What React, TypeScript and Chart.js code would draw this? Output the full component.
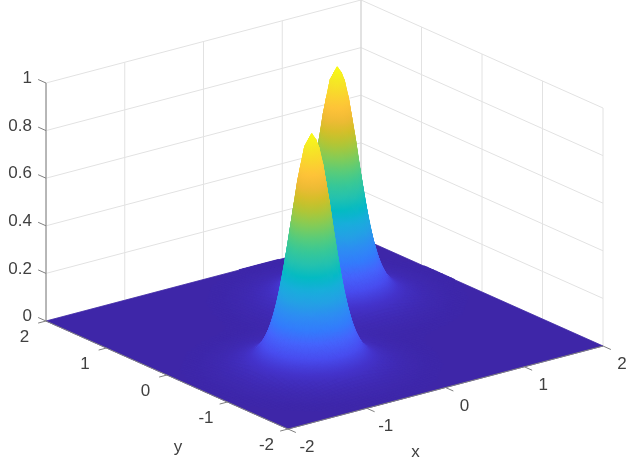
import React, { useEffect, useRef } from "react";
import { Chart, registerables } from "chart.js";

Chart.register(...registerables);

const xValues = [-2,-1.95,-1.9,-1.85,-1.8,-1.75,-1.7,-1.65,-1.6,-1.55,-1.5,-1.45,-1.4,-1.35,-1.3,-1.25,-1.2,-1.15,-1.1,-1.05,-1,-0.95,-0.9,-0.85,-0.8,-0.75,-0.7,-0.65,-0.6,-0.55,-0.5,-0.45,-0.4,-0.35,-0.3,-0.25,-0.2,-0.15,-0.1,-0.05,0,0.05,0.1,0.15,0.2,0.25,0.3,0.35,0.4,0.45,0.5,0.55,0.6,0.65,0.7,0.75,0.8,0.85,0.9,0.95,1,1.05,1.1,1.15,1.2,1.25,1.3,1.35,1.4,1.45,1.5,1.55,1.6,1.65,1.7,1.75,1.8,1.85,1.9,1.95,2];
const yValues = [-2,-1.95,-1.9,-1.85,-1.8,-1.75,-1.7,-1.65,-1.6,-1.55,-1.5,-1.45,-1.4,-1.35,-1.3,-1.25,-1.2,-1.15,-1.1,-1.05,-1,-0.95,-0.9,-0.85,-0.8,-0.75,-0.7,-0.65,-0.6,-0.55,-0.5,-0.45,-0.4,-0.35,-0.3,-0.25,-0.2,-0.15,-0.1,-0.05,0,0.05,0.1,0.15,0.2,0.25,0.3,0.35,0.4,0.45,0.5,0.55,0.6,0.65,0.7,0.75,0.8,0.85,0.9,0.95,1,1.05,1.1,1.15,1.2,1.25,1.3,1.35,1.4,1.45,1.5,1.55,1.6,1.65,1.7,1.75,1.8,1.85,1.9,1.95,2];

// Cross-sections of each peak along the grid above: a narrow core and a faint wide foot.
const frontCoreSection = [0,0,0,0,0,0,0,0,0,0,0.0003,0.0008,0.0021,0.0048,0.0104,0.0213,0.041,0.0743,0.1262,0.2018,0.3029,0.4271,0.5659,0.7042,0.8234,0.9043,0.933,0.9043,0.8234,0.7042,0.5659,0.4271,0.3029,0.2018,0.1262,0.0743,0.041,0.0213,0.0104,0.0048,0.0021,0.0008,0.0003,0,0,0,0,0,0,0,0,0,0,0,0,0,0,0,0,0,0,0,0,0,0,0,0,0,0,0,0,0,0,0,0,0,0,0,0,0,0];
const frontFootSection = [0.0051,0.007,0.0094,0.0126,0.0167,0.0218,0.028,0.0356,0.0447,0.0555,0.0681,0.0825,0.0985,0.1166,0.1359,0.1567,0.1783,0.2005,0.2225,0.2441,0.2646,0.2832,0.2994,0.3126,0.3224,0.3284,0.3304,0.3284,0.3224,0.3126,0.2994,0.2832,0.2646,0.2441,0.2225,0.2005,0.1783,0.1567,0.1359,0.1166,0.0985,0.0825,0.0681,0.0555,0.0447,0.0356,0.028,0.0218,0.0167,0.0126,0.0094,0.007,0.0051,0.0037,0.0026,0.0019,0.0013,0.0009,0.0006,0.0004,0.0002,0.0001,0,0,0,0,0,0,0,0,0,0,0,0,0,0,0,0,0,0,0];
const backCoreSection = [0,0,0,0,0,0,0,0,0,0,0,0,0,0,0,0,0,0,0,0,0,0,0,0,0,0,0,0,0,0,0,0,0,0,0,0,0,0,0.0003,0.0008,0.0021,0.0048,0.0104,0.0213,0.041,0.0743,0.1262,0.2018,0.3029,0.4271,0.5659,0.7042,0.8234,0.9043,0.933,0.9043,0.8234,0.7042,0.5659,0.4271,0.3029,0.2018,0.1262,0.0743,0.041,0.0213,0.0104,0.0048,0.0021,0.0008,0.0003,0,0,0,0,0,0,0,0,0,0];
const backFootSection = [0,0,0,0,0,0,0,0,0,0,0,0,0,0,0,0,0,0,0,0.0001,0.0002,0.0004,0.0006,0.0009,0.0013,0.0019,0.0026,0.0037,0.0051,0.007,0.0094,0.0126,0.0167,0.0218,0.028,0.0356,0.0447,0.0555,0.0681,0.0825,0.0985,0.1166,0.1359,0.1567,0.1783,0.2005,0.2225,0.2441,0.2646,0.2832,0.2994,0.3126,0.3224,0.3284,0.3304,0.3284,0.3224,0.3126,0.2994,0.2832,0.2646,0.2441,0.2225,0.2005,0.1783,0.1567,0.1359,0.1166,0.0985,0.0825,0.0681,0.0555,0.0447,0.0356,0.028,0.0218,0.0167,0.0126,0.0094,0.007,0.0051];

const PEAK_HEIGHT = 0.98;
const xTicks = [-2, -1, 0, 1, 2];
const yTicks = [-2, -1, 0, 1, 2];
const zTicks = [0, 0.2, 0.4, 0.6, 0.8, 1];
const zTickLabels = ["0", "0.2", "0.4", "0.6", "0.8", "1"];
const xTickLabels = ["-2", "-1", "0", "1", "2"];
const yTickLabels = ["-2", "-1", "0", "1", "2"];

const parula: number[][] = [
  [.2422,.1504,.6603],[.2647,.1978,.7952],[.2813,.3006,.9414],[.2699,.3892,.9906],[.1963,.4847,.9892],
  [.1764,.5499,.9520],[.1380,.6276,.8973],[.0952,.6798,.8598],[.0067,.7312,.7660],[.1408,.7584,.6842],
  [.2161,.7843,.5923],[.3406,.8008,.4789],[.5044,.7993,.3480],[.6720,.7793,.2227],[.8203,.7498,.1535],
  [.9393,.7288,.2100],[.9970,.7659,.2199],[.9786,.8386,.1766],[.9597,.9135,.1423],[.9769,.9839,.0805],
];

const W = 626, H = 458;
const ORIGIN = [288, 429];
const PER_X = [78.75, -20.75];
const PER_Y = [-60.5, -27];
const PER_Z = 238;
const project = (x: number, y: number, z: number) => ({
  x: ORIGIN[0] + (x + 2) * PER_X[0] + (y + 2) * PER_Y[0],
  y: ORIGIN[1] + (x + 2) * PER_X[1] + (y + 2) * PER_Y[1] - z * PER_Z,
});

const colorAt = (z: number) => {
  const t = z / PEAK_HEIGHT;
  const v = Math.min(Math.max(t, 0), 1) * (parula.length - 1);
  const i = Math.min(Math.floor(v), parula.length - 2);
  const f = v - i;
  const c = parula[i].map((a, k) => Math.round(255 * (a + (parula[i + 1][k] - a) * f)));
  return `rgb(${c[0]},${c[1]},${c[2]})`;
};

const zAt = (i: number, j: number) =>
  frontCoreSection[i] * frontCoreSection[j] + frontFootSection[i] * frontFootSection[j] +
  backCoreSection[i] * backCoreSection[j] + backFootSection[i] * backFootSection[j];

type P = { x: number; y: number };

const shape = (pts: P[], fill: any) => ({
  data: [...pts, pts[0]],
  showLine: true,
  fill: "shape",
  backgroundColor: fill,
  borderColor: fill,
  borderWidth: 0.8,
  pointRadius: 0,
  clip: false,
});
const line = (a: P, b: P, color: string, width = 1) => ({
  data: [a, b],
  showLine: true,
  fill: false,
  borderColor: color,
  borderWidth: width,
  pointRadius: 0,
  clip: false,
});

const triangleFill = (ctx: CanvasRenderingContext2D, p: P[], z: number[]) => {
  const zMin = Math.min(...z), zMax = Math.max(...z);
  if (zMax - zMin < 1e-5) return colorAt(zMin);
  const a = p[1].x - p[0].x, b = p[1].y - p[0].y, c = p[2].x - p[0].x, d = p[2].y - p[0].y;
  const det = a * d - b * c;
  if (Math.abs(det) < 1e-3) return colorAt((zMin + zMax) / 2);
  const dz1 = z[1] - z[0], dz2 = z[2] - z[0];
  const gx = (dz1 * d - dz2 * b) / det, gy = (a * dz2 - c * dz1) / det;
  const n = gx * gx + gy * gy;
  const g = ctx.createLinearGradient(
    p[0].x + (gx * (zMin - z[0])) / n, p[0].y + (gy * (zMin - z[0])) / n,
    p[0].x + (gx * (zMax - z[0])) / n, p[0].y + (gy * (zMax - z[0])) / n);
  for (let k = 0; k <= 4; k++) g.addColorStop(k / 4, colorAt(zMin + ((zMax - zMin) * k) / 4));
  return g;
};

const buildDatasets = (ctx: CanvasRenderingContext2D) => {
  const back: any[] = [];
  const gridColor = "#e2e2e2";
  for (const z of zTicks) {
    back.push(line(project(-2, 2, z), project(2, 2, z), gridColor));
    back.push(line(project(2, 2, z), project(2, -2, z), gridColor));
  }
  for (const x of xTicks.slice(0, -1)) back.push(line(project(x, 2, 0), project(x, 2, 1), gridColor));
  for (const y of yTicks) back.push(line(project(2, y, 0), project(2, y, 1), y === 2 ? "#d8d8d8" : gridColor, y === 2 ? 1.5 : 1));

  back.push(shape([project(-2, -2, 0), project(2, -2, 0), project(2, 2, 0), project(-2, 2, 0)], colorAt(0)));

  const n = xValues.length;
  for (let i = n - 2; i >= 0; i--) {
    for (let j = n - 2; j >= 0; j--) {
      const z00 = zAt(i, j), z10 = zAt(i + 1, j), z01 = zAt(i, j + 1), z11 = zAt(i + 1, j + 1);
      const top = Math.max(z00, z10, z01, z11);
      if (top < 0.002) continue;
      const p00 = project(xValues[i], yValues[j], z00);
      const p10 = project(xValues[i + 1], yValues[j], z10);
      const p01 = project(xValues[i], yValues[j + 1], z01);
      const p11 = project(xValues[i + 1], yValues[j + 1], z11);
      if (top < 0.04) {
        back.push(shape([p00, p10, p11, p01], colorAt((z00 + z10 + z01 + z11) / 4)));
        continue;
      }
      back.push(shape([p11, p10, p01], triangleFill(ctx, [p11, p10, p01], [z11, z10, z01])));
      back.push(shape([p10, p00, p01], triangleFill(ctx, [p10, p00, p01], [z10, z00, z01])));
    }
  }

  const axis = "#7f7f7f";
  back.push(line(project(-2, 2, 0), project(-2, 2, 1), axis));
  back.push(line(project(-2, -2, 0), project(2, -2, 0), axis));
  back.push(line(project(-2, -2, 0), project(-2, 2, 0), axis));
  for (const z of zTicks) back.push(line(project(-2, 2, z), project(-2, 2.13, z), axis));
  for (const x of xTicks) back.push(line(project(x, -2, 0), project(x, -2.13, 0), axis));
  for (const y of yTicks) back.push(line(project(-2, y, 0), project(-2.1, y, 0), axis));

  return back.reverse();
};

const labelsPlugin = {
  id: "axisLabels",
  afterDraw(chart: any) {
    const c = chart.ctx as CanvasRenderingContext2D;
    c.save();
    c.fillStyle = "#404040";
    c.font = '17px "Liberation Sans", Arial, sans-serif';
    c.textBaseline = "middle";
    c.textAlign = "right";
    zTicks.forEach((z, k) => {
      const p = project(-2, 2, z);
      c.fillText(zTickLabels[k], p.x - 14, p.y - 4.5);
    });
    c.textAlign = "center";
    xTicks.forEach((x, k) => {
      const p = project(x, -2, 0);
      c.fillText(xTickLabels[k], p.x + 19, p.y + 18.5);
    });
    yTicks.forEach((y, k) => {
      const p = project(-2, y, 0);
      c.fillText(yTickLabels[k], p.x - 21.5, p.y + 16);
    });
    const xMid = project(0, -2, 0), yMid = project(-2, 0, 0);
    c.fillText("x", xMid.x - 30, xMid.y + 65);
    c.fillText("y", yMid.x + 11, yMid.y + 72);
    c.restore();
  },
};

export default function App() {
  const ref = useRef<HTMLCanvasElement | null>(null);
  useEffect(() => {
    const canvas = ref.current!;
    const ctx = canvas.getContext("2d")!;
    const chart = new Chart(canvas, {
      type: "scatter",
      data: { datasets: buildDatasets(ctx) },
      options: {
        animation: false,
        responsive: false,
        devicePixelRatio: 1,
        events: [],
        layout: { padding: 0 },
        elements: { line: { tension: 0, borderJoinStyle: "round" } },
        plugins: { legend: { display: false }, tooltip: { enabled: false }, title: { display: false } },
        scales: {
          x: { type: "linear", min: 0, max: W, display: false },
          y: { type: "linear", min: 0, max: H, reverse: true, display: false },
        },
      },
      plugins: [labelsPlugin],
    } as any);
    return () => chart.destroy();
  }, []);
  return (
    <div style={{ position: "fixed", left: 0, top: 0, width: W, height: H, background: "#fff" }}>
      <canvas ref={ref} width={W} height={H} style={{ display: "block", filter: "blur(0.5px)" }} />
    </div>
  );
}
